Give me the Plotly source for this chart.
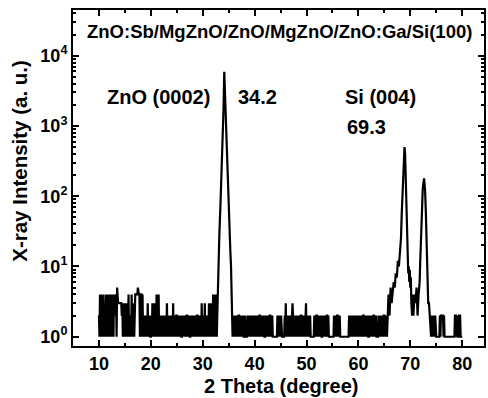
import plotly.graph_objects as go

# ---------------- data ----------------
# noise segment 1: 2-theta from 10.0 in steps of 0.1 (counts)
NOISE1_START = 10.0
NOISE1_ROWS = [
    "2141412141", "1314121413", "1413141414", "2434153333", "3333231313",
    "1313121412", "1214121313", "4444454441", "4441412121", "2121312121",
    "1213121312", "1412141212", "1212121212", "1312121212", "1213121212",
    "2121212121", "1212121212", "2121211212", "1212121212", "2121212131",
    "2121312121", "2131213121", "414131412",
]
# ZnO (0002) peak
PEAK1_X = [32.9, 33.0, 33.2, 33.4, 33.6, 33.8, 34.0, 34.15, 34.3, 34.5, 34.7,
           34.9, 35.1, 35.3, 35.45, 35.55, 35.65, 35.75, 35.85, 35.95]
PEAK1_Y = [6, 12, 28, 70, 180, 500, 1700, 5900, 2500, 900, 350,
           130, 50, 18, 10, 4, 2, 1, 2, 1]
# noise segment 2: from 36.0 in steps of 0.1
NOISE2_START = 36.0
NOISE2_ROWS = [
    "1212121212", "2121212121", "1211112121", "2121212121", "1212121212",
    "2121212121", "1212121212", "2121211111", "1111212121", "1211111121",
    "3121212121", "2123212121", "1212121212", "2121212123", "1212121211",
    "1111121212", "2121212121", "1212121212", "2121111111", "1112121212",
    "2121211111", "1111111111", "1121212121", "2121212121", "1212121212",
    "2121212121", "1212121212", "2121211112", "1212121212",
]
# Si (004) region with the two peaks
PEAK2_X = [65.0, 65.1, 65.2, 65.3, 65.4, 65.5, 65.6, 65.8, 66.0, 66.2, 66.4,
           66.6, 66.8, 67.0, 67.2, 67.4, 67.6, 67.8, 68.0, 68.2, 68.35, 68.55,
           68.75, 68.88, 69.0, 69.13, 69.32, 69.5, 69.6, 69.7, 69.8, 69.9,
           70.0, 70.1, 70.2, 70.35, 70.5, 70.6, 70.8, 71.0, 71.2, 71.4, 71.6,
           71.8, 71.9, 72.05, 72.2, 72.4, 72.65, 72.85, 73.0, 73.15, 73.3,
           73.45, 73.6, 73.8, 74.0]
PEAK2_Y = [2, 1, 2, 1, 2, 1, 2, 4, 2, 5, 3,
           4, 6, 5, 8, 7, 12, 10, 16, 25, 57, 170,
           380, 500, 400, 170, 57, 15, 8, 10, 6, 9,
           5, 7, 3, 2, 4, 2, 4, 3, 5, 2, 4,
           6, 11, 25, 57, 130, 180, 120, 57, 20, 11,
           3, 3, 2, 1]
# noise segment 3: from 74.1 in steps of 0.1
NOISE3_START = 74.1
NOISE3_ROWS = ["212112121", "1111111", "212222212",
               "11111111111111111111", "22212111222", "1111"]
STEP = 0.1

X_TICKS = [10, 20, 30, 40, 50, 60, 70, 80]
Y_TICKS = [1, 10, 100, 1000, 10000]
Y_TICK_TEXT = ["10<sup>0</sup>", "10<sup>1</sup>", "10<sup>2</sup>",
               "10<sup>3</sup>", "10<sup>4</sup>"]
Y_MINOR = [m * 10 ** e for e in range(0, 5) for m in range(2, 10)]

TITLE = "ZnO:Sb/MgZnO/ZnO/MgZnO/ZnO:Ga/Si(100)"
LABELS = [("ZnO (0002)", 21.4, 3.41), ("34.2", 40.5, 3.41),
          ("Si (004)", 64.2, 3.41), ("69.3", 61.6, 2.98)]


def expand(start, rows):
    vals = [int(c) for c in "".join(rows)]
    xs = [round(start + STEP * i, 2) for i in range(len(vals))]
    return xs, vals


x1, y1 = expand(NOISE1_START, NOISE1_ROWS)
x2, y2 = expand(NOISE2_START, NOISE2_ROWS)
x3, y3 = expand(NOISE3_START, NOISE3_ROWS)
X = x1 + PEAK1_X + x2 + PEAK2_X + x3
Y = y1 + PEAK1_Y + y2 + PEAK2_Y + y3

FONT = "Liberation Sans, Arial, sans-serif"

fig = go.Figure()
fig.add_trace(go.Scatter(x=X, y=Y, mode="lines",
                         line=dict(color="black", width=2.2),
                         showlegend=False, hoverinfo="skip"))

fig.update_layout(
    width=488, height=398,
    margin=dict(l=73, r=2, t=10, b=52),
    paper_bgcolor="white", plot_bgcolor="white",
    font=dict(family=FONT, size=18, color="black", weight="bold"),
    showlegend=False,
)
fig.update_xaxes(
    range=[5, 84.2], showgrid=False, zeroline=False,
    showline=True, linecolor="black", linewidth=2, mirror="allticks",
    tickmode="array", tickvals=X_TICKS, ticks="inside", ticklen=6,
    tickwidth=2, tickcolor="black",
    minor=dict(dtick=5, tick0=0, ticks="inside", ticklen=3, tickwidth=2,
               tickcolor="black", showgrid=False),
    tickfont=dict(size=18, family=FONT, weight="bold"),
)
fig.update_yaxes(
    type="log", range=[-0.132, 4.651], showgrid=False, zeroline=False,
    showline=True, linecolor="black", linewidth=2, mirror="allticks",
    tickmode="array", tickvals=Y_TICKS, ticktext=Y_TICK_TEXT,
    ticks="inside", ticklen=6, tickwidth=2, tickcolor="black",
    minor=dict(tickvals=Y_MINOR, ticks="inside", ticklen=3, tickwidth=1.5,
               tickcolor="black", showgrid=False),
    tickfont=dict(size=18, family=FONT, weight="bold"),
)

fig.add_annotation(text=TITLE, x=44.8, y=4.35, xref="x", yref="y",
                   showarrow=False, font=dict(size=18.5, family=FONT, weight="bold"))
for txt, lx, ly in LABELS:
    fig.add_annotation(text=txt, x=lx, y=ly, xref="x", yref="y",
                       showarrow=False, font=dict(size=20, family=FONT, weight="bold"))

fig.add_annotation(text="X-ray Intensity (a. u.)", x=-0.13, y=0.55,
                   xref="paper", yref="paper", textangle=-90, showarrow=False,
                   xanchor="center", yanchor="middle",
                   font=dict(size=20.5, family=FONT, weight="bold"))
fig.add_annotation(text="2 Theta (degree)", x=0.506, y=-0.119,
                   xref="paper", yref="paper", showarrow=False,
                   xanchor="center", yanchor="middle",
                   font=dict(size=20, family=FONT, weight="bold"))

fig.write_html("out.html")
